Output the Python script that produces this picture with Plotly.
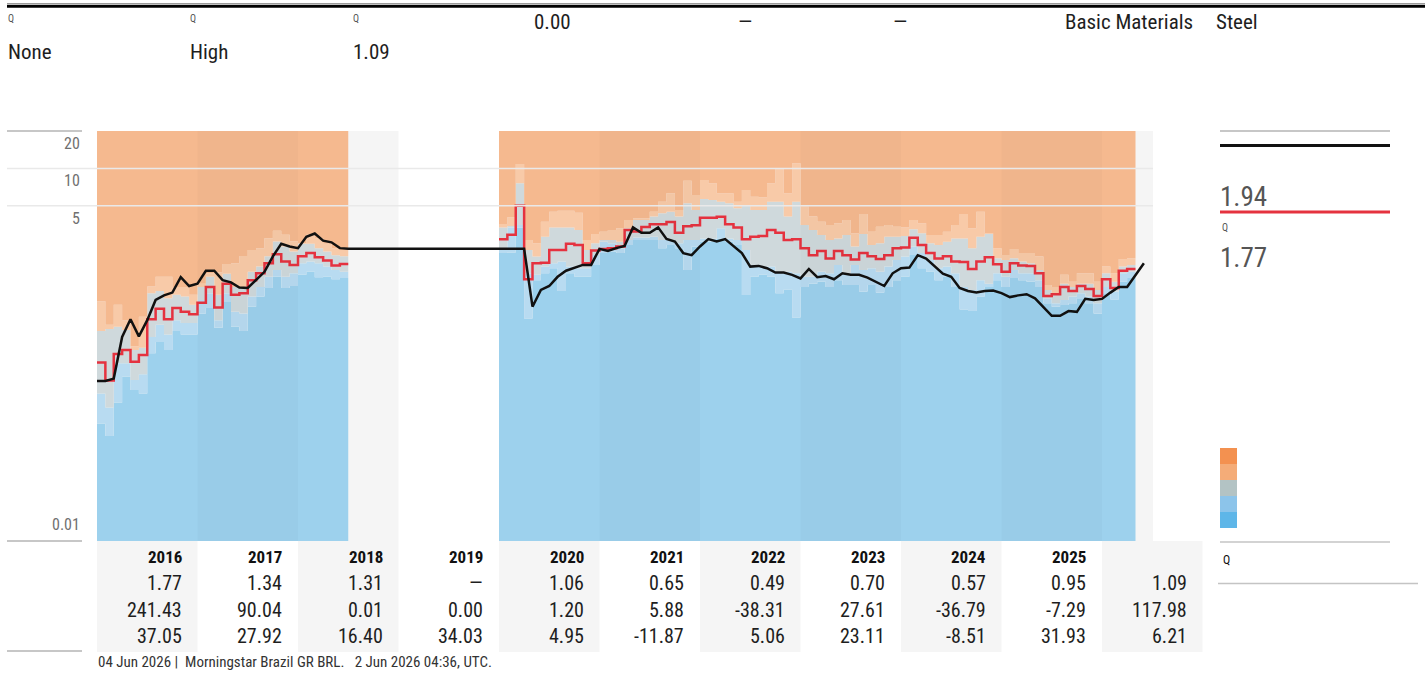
import math
import plotly.graph_objects as go

# Werte (aus dem Bild geschätzt)
# Bänder je Monat: Oberkante blau, hellblau, grau, hellorange (darüber orange)
B1_A = [0.088, 0.070, 0.13, 0.21, 0.164, 0.154, 0.325, 0.40, 0.345, 0.49, 0.46, 0.46, 0.68, 0.75, 0.52,
        0.85, 0.53, 0.49, 0.77, 0.93, 1.09, 1.34, 1.09, 1.13, 1.39, 1.47, 1.33, 1.34, 1.28, 1.31]
B2_A = [0.154, 0.119, 0.27, 0.27, 0.198, 0.22, 0.44, 0.55, 0.46, 0.60, 0.57, 0.57, 0.87, 0.99, 0.60,
        0.99, 0.70, 0.68, 0.93, 1.11, 1.34, 1.52, 1.34, 1.43, 1.72, 1.78, 1.72, 1.62, 1.52, 1.47]
B3_A = [0.49, 0.51, 0.53, 0.50, 0.345, 0.36, 0.99, 1.03, 0.90, 0.96, 0.93, 0.80, 1.11, 1.34, 0.96,
        1.42, 1.11, 1.11, 1.47, 1.62, 1.96, 2.58, 2.35, 2.14, 2.47, 2.47, 2.28, 2.14, 2.00, 1.96]
B4_A = [0.85, 0.55, 0.80, 0.60, 0.37, 0.64, 1.12, 1.34, 1.34, 1.11, 1.11, 0.96, 1.18, 1.43, 1.45,
        1.70, 1.72, 1.97, 2.20, 2.28, 2.74, 3.15, 2.92, 2.58, 2.50, 2.92, 2.74, 2.47, 2.28, 2.20]

B1_B = [2.08, 2.10, 3.35, 0.62, 1.26, 1.43, 1.57, 1.03, 1.43, 1.34, 1.34, 1.67, 2.08, 2.14, 2.08, 2.42,
        2.65, 2.65, 2.65, 2.28, 2.42, 2.28, 1.52, 2.35, 2.57, 2.57, 2.73, 2.57, 2.42, 0.956, 1.34, 1.39,
        1.34, 0.99, 1.06, 0.63, 1.11, 1.18, 1.22, 1.11, 1.26, 1.15, 1.15, 1.02, 1.15, 1.00, 1.11, 1.26,
        1.34, 2.01, 1.57, 1.47, 1.26, 1.34, 1.11, 0.73, 0.71, 0.93, 1.11, 1.26, 1.11, 1.31, 1.26, 1.22,
        1.11, 0.82, 0.77, 0.794, 0.82, 0.90, 0.82, 0.68, 0.99, 0.88, 1.22, 1.31]
B2_B = [2.20, 3.35, 3.50, 1.43, 1.39, 1.62, 1.72, 1.78, 1.62, 1.57, 1.57, 2.01, 2.57, 2.50, 2.28, 2.65,
        2.78, 2.78, 2.82, 2.65, 2.65, 2.50, 2.65, 2.65, 2.73, 2.73, 3.29, 2.73, 2.65, 2.20, 1.67, 1.62,
        1.62, 1.47, 1.47, 1.43, 1.34, 1.34, 1.47, 1.43, 1.67, 1.43, 1.67, 1.52, 1.57, 1.47, 1.62, 1.83,
        1.95, 2.35, 2.08, 1.83, 1.57, 1.62, 1.43, 1.11, 1.05, 1.26, 1.18, 1.43, 1.34, 1.52, 1.43, 1.43,
        1.26, 0.90, 0.82, 0.872, 0.93, 0.99, 0.93, 0.82, 1.11, 1.02, 1.43, 1.47]
B3_B = [3.35, 3.43, 7.59, 2.20, 1.95, 2.82, 3.35, 3.35, 3.35, 3.19, 2.20, 2.50, 2.65, 2.65, 2.57, 3.29,
        3.84, 3.84, 4.09, 4.35, 4.48, 4.09, 5.24, 4.62, 5.66, 5.56, 5.40, 5.24, 4.77, 5.07, 4.62, 4.62,
        5.40, 5.40, 4.09, 5.40, 3.50, 3.19, 2.91, 2.65, 2.73, 2.91, 2.35, 2.96, 2.42, 2.50, 2.82, 2.82,
        2.86, 3.23, 3.00, 2.50, 2.42, 2.57, 2.73, 2.73, 2.28, 2.82, 2.96, 1.89, 1.83, 1.89, 1.78, 1.72,
        1.52, 1.05, 0.956, 1.18, 1.11, 1.18, 1.18, 1.05, 1.43, 1.22, 1.62, 1.67]
B4_B = [3.56, 4.04, 10.84, 2.65, 2.50, 3.72, 4.48, 4.56, 4.56, 4.40, 2.65, 2.96, 3.09, 3.19, 3.29, 3.84,
        3.97, 3.97, 4.48, 5.40, 6.30, 4.62, 7.96, 6.10, 8.06, 7.59, 6.30, 6.30, 5.40, 6.70, 5.92, 5.85,
        7.59, 9.87, 6.30, 10.98, 4.92, 4.09, 3.72, 3.50, 3.61, 3.84, 3.00, 4.30, 3.09, 3.39, 3.50, 3.39,
        3.35, 3.84, 3.61, 2.91, 2.91, 3.09, 3.50, 4.30, 3.29, 4.48, 3.00, 2.28, 2.01, 2.24, 2.08, 2.08,
        1.95, 1.15, 1.11, 1.39, 1.22, 1.43, 1.43, 1.22, 1.62, 1.43, 1.86, 1.89]

# rote Stufenlinie
RED_A = [0.273, 0.196, 0.32, 0.345, 0.277, 0.315, 0.61, 0.74, 0.61, 0.75, 0.70, 0.67, 0.83, 1.11, 0.76,
         1.18, 0.96, 0.99, 1.26, 1.43, 1.72, 2.04, 1.78, 1.67, 1.96, 2.08, 1.93, 1.81, 1.65, 1.70]
RED_B = [2.69, 2.92, 5.0, 1.28, 1.72, 1.74, 2.20, 2.20, 2.47, 2.42, 1.72, 2.18, 2.24, 2.28, 2.35, 3.19,
         3.10, 3.38, 3.55, 3.55, 3.70, 3.03, 3.42, 3.48, 4.0, 4.0, 4.08, 3.55, 3.35, 2.69, 2.81, 2.85,
         3.19, 3.03, 2.65, 2.69, 2.28, 2.00, 2.16, 1.88, 2.16, 2.00, 1.85, 2.08, 1.96, 1.86, 2.00, 2.28,
         2.31, 2.76, 2.42, 2.08, 1.88, 1.96, 1.78, 1.76, 1.55, 1.78, 1.93, 1.69, 1.47, 1.72, 1.65, 1.64,
         1.43, 0.94, 0.97, 1.11, 1.03, 1.13, 1.07, 0.94, 1.28, 1.09, 1.50, 1.55]

# schwarze Linie (Monatswerte)
BLACK_A = [0.194, 0.194, 0.203, 0.44, 0.61, 0.444, 0.60, 0.872, 0.95, 1.0, 1.33, 1.13, 1.18, 1.50, 1.50,
           1.26, 1.21, 1.10, 1.09, 1.26, 1.47, 1.96, 2.47, 2.35, 2.28, 2.81, 2.99, 2.62, 2.54, 2.28, 2.25]
BLACK_B = [2.25, 2.25, 2.25, 2.25, 0.77, 1.05, 1.13, 1.34, 1.50, 1.59, 1.67, 1.67, 2.25, 2.16, 2.28, 2.37,
           3.35, 3.03, 3.03, 3.35, 2.70, 2.58, 2.08, 2.00, 2.35, 2.70, 2.58, 2.70, 2.35, 2.08, 1.62, 1.64,
           1.57, 1.45, 1.45, 1.39, 1.30, 1.55, 1.33, 1.36, 1.28, 1.43, 1.39, 1.39, 1.32, 1.22, 1.13, 1.43,
           1.57, 1.59, 2.00, 1.88, 1.62, 1.42, 1.34, 1.09, 1.03, 1.00, 1.03, 1.04, 0.99, 0.92, 0.95, 0.97,
           0.90, 0.77, 0.65, 0.65, 0.71, 0.70, 0.89, 0.87, 0.89, 1.00, 1.11, 1.11, 1.39, 1.72]
START_A, START_B = 2016, 2020

Y_TICKS = [20, 10, 5, 0.01]
Y_MIN, Y_MAX = 0.01, 20

YEARS = ["2016", "2017", "2018", "2019", "2020", "2021", "2022", "2023", "2024", "2025", ""]
ROW_1 = ["1.77", "1.34", "1.31", "—", "1.06", "0.65", "0.49", "0.70", "0.57", "0.95", "1.09"]
ROW_2 = ["241.43", "90.04", "0.01", "0.00", "1.20", "5.88", "-38.31", "27.61", "-36.79", "-7.29", "117.98"]
ROW_3 = ["37.05", "27.92", "16.40", "34.03", "4.95", "-11.87", "5.06", "23.11", "-8.51", "31.93", "6.21"]

HEAD_TOP = ["0.00", "—", "—", "Basic Materials", "Steel"]
HEAD_BOTTOM = ["None", "High", "1.09"]
LEGEND_VALUES = ["1.94", "1.77"]
FOOTER = "04 Jun 2026 |  Morningstar Brazil GR BRL.   2 Jun 2026 04:36, UTC."

# Farben
ORANGE, LORANGE, GRAY, LBLUE, BLUE = "#f5b98f", "#f8caa8", "#cfd9dc", "#b8dbf1", "#9dd1ed"
SWATCHES = ["#f39150", "#f4ac78", "#b3c3c4", "#8cc4ea", "#5eb6e8"]
RED, BLACK = "#e5323f", "#111111"
FONT = "Liberation Sans Narrow, Arial Narrow, Roboto Condensed, DejaVu Sans Condensed, Liberation Sans, sans-serif"

# Geometrie (Pixel); Seitenrand wird per post_script auf 0 gesetzt
W, H = 1425, 677
L, R, T, B = 97, 1153, 131, 541
COL = 100.5                      # px pro Jahr
X0 = 2016.0
X1 = X0 + (R - L) / COL


def px(x):
    return (x - L) / (R - L)


def py(y):
    return (B - y) / (B - T)


def pv(v):  # Wert -> paper y (log-Achse)
    return (math.log10(v) - math.log10(Y_MIN)) / (math.log10(Y_MAX) - math.log10(Y_MIN))


def steps(start, vals):
    xs = [start + i / 12 for i in range(len(vals) + 1)]
    return xs, list(vals) + [vals[-1]]


fig = go.Figure()

# Bänder
for start, bands in [(START_A, (B1_A, B2_A, B3_A, B4_A)), (START_B, (B1_B, B2_B, B3_B, B4_B))]:
    n = len(bands[0])
    xs, base = steps(start, [Y_MIN] * n)
    fig.add_trace(go.Scatter(x=xs, y=base, mode="lines", line=dict(width=0, shape="hv"),
                             hoverinfo="skip", showlegend=False))
    for vals, col in zip(list(bands) + [[Y_MAX] * n], [BLUE, LBLUE, GRAY, LORANGE, ORANGE]):
        xs, ys = steps(start, vals)
        fig.add_trace(go.Scatter(x=xs, y=ys, mode="lines", fill="tonexty", fillcolor=col,
                                 line=dict(width=0, shape="hv"), hoverinfo="skip", showlegend=False))

# rote Linie
xa, ya = steps(START_A, RED_A)
xb, yb = steps(START_B, RED_B)
fig.add_trace(go.Scatter(x=xa + [None] + xb, y=ya + [None] + yb, mode="lines",
                         line=dict(color=RED, width=2.5, shape="hv"), showlegend=False))

# schwarze Linie
bx = [START_A + i / 12 for i in range(len(BLACK_A))] + [START_B + i / 12 for i in range(len(BLACK_B))]
fig.add_trace(go.Scatter(x=bx, y=BLACK_A + BLACK_B, mode="lines",
                         line=dict(color=BLACK, width=2.5), showlegend=False))

shapes, ann = [], []


def rect(x0, x1, y0, y1, color, layer="below"):
    shapes.append(dict(type="rect", xref="paper", yref="paper", x0=x0, x1=x1, y0=y0, y1=y1,
                       fillcolor=color, line=dict(width=0), layer=layer))


def hline(x0, x1, y, color, width=1, layer="above"):
    shapes.append(dict(type="line", xref="paper", yref="paper", x0=px(x0), x1=px(x1), y0=y, y1=y,
                       line=dict(color=color, width=width), layer=layer))


def text(x, y, s, size, color="#1e1e1e", xanchor="left", yanchor="middle"):
    ann.append(dict(xref="paper", yref="paper", x=px(x), y=py(y), text=s, showarrow=False,
                    xanchor=xanchor, yanchor=yanchor, borderpad=0,
                    font=dict(family=FONT, size=size, color=color)))


# graue Spalten (Diagramm + Tabelle)
span = X1 - X0
for k in range(0, 11, 2):
    x0 = k / span
    if k < 10:
        rect(x0, (k + 1) / span, py(652), 1, "#f5f5f5")
    else:
        rect(x0, 1, 0, 1, "#f5f5f5")
        rect(x0, (k + 1) / span, py(652), 0, "#f5f5f5")
# leicht dunklere ungerade Jahre
for k in [1, 5, 7, 9]:
    shapes.append(dict(type="rect", xref="x", yref="paper", x0=X0 + k, x1=X0 + k + 1, y0=0, y1=1,
                       fillcolor="rgba(0,0,0,0.018)", line=dict(width=0), layer="above"))

# Gitterlinien / Achse links
hline(7, R, pv(10), "#e9e9e9", 1.5)
hline(7, R, pv(5), "#e9e9e9", 1.5)
hline(7, 82, pv(20), "#b4b4b4", 1.5)
hline(7, 82, pv(0.01), "#b4b4b4", 1.5)
hline(7, 82, py(651), "#b4b4b4", 1.5)
for v in Y_TICKS:
    lab = f"{v:g}"
    ann.append(dict(xref="paper", yref="paper", x=px(81), y=pv(v), text=lab, showarrow=False,
                    xanchor="right", yanchor="bottom" if v == Y_MIN else "top",
                    yshift=6 if v == Y_MIN else -2, borderpad=0,
                    font=dict(family=FONT, size=16, color="#707070")))

# Kopfzeile
hline(7, W, py(3.5), "#9a9a9a", 1)
hline(7, W, py(6.2), "#000000", 3)
for x in [7, 189, 352]:
    text(x, 19, "Q", 10, "#555555")
for x, s in zip([533, 737, 892, 1064, 1215], HEAD_TOP):
    text(x, 22, s, 21)
for x, s in zip([7, 189, 352], HEAD_BOTTOM):
    text(x, 52, s, 21)

# Tabelle
for k in range(11):
    xr = L + COL * (k + 1) - 15
    if YEARS[k]:
        text(xr, 557, f"<b>{YEARS[k]}</b>", 17, "#111111", xanchor="right")
    text(xr, 582.5, ROW_1[k], 20, xanchor="right")
    text(xr, 609.5, ROW_2[k], 20, xanchor="right")
    text(xr, 636, ROW_3[k], 20, xanchor="right")
text(97, 662, FOOTER, 15, "#333333")

# rechte Legende
hline(1220, 1390, py(131), "#b4b4b4", 1.5)
hline(1220, 1390, py(145.5), BLACK, 3)
text(1219, 197, LEGEND_VALUES[0], 27, "#555555")
hline(1220, 1390, py(212), RED, 3)
text(1221, 227, "Q", 10, "#555555")
text(1219, 258, LEGEND_VALUES[1], 27, "#555555")
for i, c in enumerate(SWATCHES):
    rect(px(1220), px(1237), py(448 + 16 * (i + 1)), py(448 + 16 * i), c, layer="above")
hline(1220, 1390, py(542), "#c4c4c4", 1.5)
text(1222, 560, "Q", 12, "#111111")
hline(1218, 1418, py(583.5), "#c4c4c4", 1.5)

fig.update_layout(
    width=W, height=H,
    margin=dict(l=L, r=W - R, t=T, b=H - B),
    paper_bgcolor="white", plot_bgcolor="rgba(0,0,0,0)",
    shapes=shapes, annotations=ann, showlegend=False,
    font=dict(family=FONT),
)
fig.update_xaxes(range=[X0, X1], visible=False, fixedrange=True)
fig.update_yaxes(type="log", range=[math.log10(Y_MIN), math.log10(Y_MAX)], showgrid=False,
                 showticklabels=False, zeroline=False, showline=False, ticks="", fixedrange=True)

fig.write_html("out.html", config={"displayModeBar": False},
               post_script="document.body.style.margin='0';")
